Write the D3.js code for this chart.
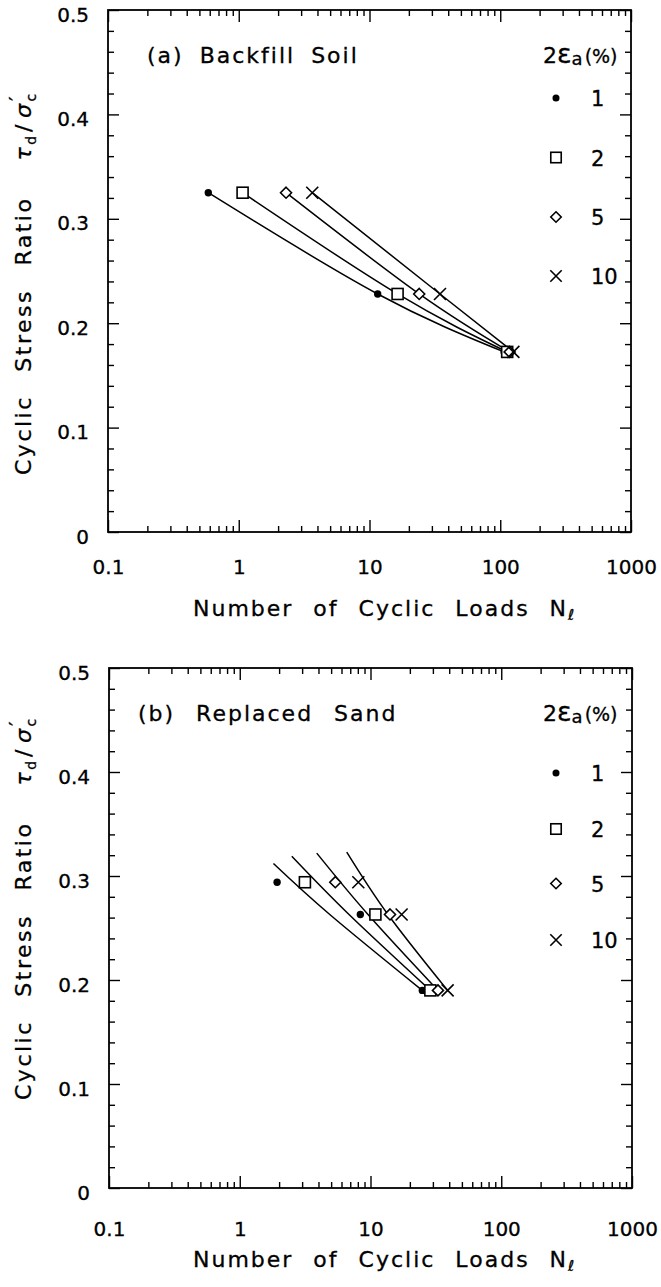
<!DOCTYPE html>
<html><head><meta charset="utf-8">
<script src="https://cdn.jsdelivr.net/npm/d3@7"></script>
<style>
body{margin:0;background:#fff}
text{font-family:"DejaVu Sans",sans-serif;fill:#000;stroke:#000;stroke-width:0.3px}
</style>
</head><body>
<svg id="c" width="661" height="1287"></svg>
<script>
// ---------------- data ----------------
const xTickValues = [0.1, 1, 10, 100, 1000];
const xTickLabels = ["0.1", "1", "10", "100", "1000"];
const yTickValues = [0, 0.1, 0.2, 0.3, 0.4, 0.5];
const yTickLabels = ["0", "0.1", "0.2", "0.3", "0.4", "0.5"];
const seriesNames = ["1", "2", "5", "10"];
const seriesSymbols = ["dot", "square", "diamond", "cross"];

// (a) Backfill Soil : stress ratio levels and number of cycles for each 2εa
const ratioA = [0.325, 0.228, 0.1725];
const cyclesA_1 = [0.585, 11.55, 107];
const cyclesA_2 = [1.07, 16.4, 113];
const cyclesA_5 = [2.30, 24.0, 118];
const cyclesA_10 = [3.65, 34.6, 126];

// (b) Replaced Sand
const ratioB = [0.294, 0.263, 0.19];
const cyclesB_1 = [1.93, 8.36, 24.9];
const cyclesB_2 = [3.15, 10.9, 28.7];
const cyclesB_5 = [5.38, 14.1, 32.8];
const cyclesB_10 = [8.07, 17.3, 38.9];

// fitted curves for (b): [N, ratio]
const fitB_1 = [[1.81, 0.312], [4.88, 0.263], [24.9, 0.19]];
const fitB_2 = [[2.50, 0.319], [6.85, 0.263], [28.7, 0.19]];
const fitB_5 = [[3.88, 0.322], [9.57, 0.263], [32.8, 0.19]];
const fitB_10 = [[6.58, 0.323], [13.6, 0.263], [38.9, 0.19]];

// ---------------- layout ----------------
const svg = d3.select("#c");
svg.append("rect").attr("width", 661).attr("height", 1287).attr("fill", "#fff");

const panels = [
  {
    title: "(a) Backfill Soil", titleX: 147, titleWS: 7,
    x0: 108, x1: 631, yTop: 10, yBot: 532,
    xLabelPad: 28, xTitleBase: 616, yTitleStart: 475,
    legendRows: [98, 157.5, 217, 276],
    cycles: [cyclesA_1, cyclesA_2, cyclesA_5, cyclesA_10], ratio: ratioA,
    fits: null
  },
  {
    title: "(b) Replaced Sand", titleX: 138, titleWS: 12,
    x0: 109, x1: 632, yTop: 668, yBot: 1188,
    xLabelPad: 34, xTitleBase: 1267, yTitleStart: 1100,
    legendRows: [773, 829, 883.5, 940],
    cycles: [cyclesB_1, cyclesB_2, cyclesB_5, cyclesB_10], ratio: ratioB,
    fits: [fitB_1, fitB_2, fitB_5, fitB_10]
  }
];

function marker(g, type, cx, cy, s) {
  s = s || 1;
  if (type === "dot") {
    g.append("circle").attr("cx", cx).attr("cy", cy).attr("r", 3.7 * s).attr("fill", "#000");
  } else if (type === "square") {
    const h = 5.5 * s;
    g.append("rect").attr("x", cx - h).attr("y", cy - h).attr("width", 2 * h).attr("height", 2 * h)
      .attr("fill", "#fff").attr("stroke", "#000").attr("stroke-width", 1.6);
  } else if (type === "diamond") {
    const h = 5.5 * s;
    g.append("path").attr("d", `M${cx},${cy - h}L${cx + h},${cy}L${cx},${cy + h}L${cx - h},${cy}Z`)
      .attr("fill", "#fff").attr("stroke", "#000").attr("stroke-width", 1.6);
  } else {
    const h = 6 * s;
    g.append("path").attr("d", `M${cx - h},${cy - h}L${cx + h},${cy + h}M${cx - h},${cy + h}L${cx + h},${cy - h}`)
      .attr("fill", "none").attr("stroke", "#000").attr("stroke-width", 1.6);
  }
}

const xMinor = [];
[0.1, 1, 10, 100].forEach(d => { for (let k = 2; k <= 9; k++) xMinor.push(+(d * k).toPrecision(3)); });
const yMinor = d3.range(0, 26).map(i => +(i * 0.02).toFixed(2)).filter((v, i) => i % 5 !== 0);

function styleAxis(sel) {
  sel.select(".domain").remove();
  sel.selectAll("line").attr("stroke", "#000").attr("stroke-width", 1.4);
  sel.attr("font-family", "DejaVu Sans, sans-serif").attr("font-size", 20);
}

panels.forEach(p => {
  const x = d3.scaleLog().domain([0.1, 1000]).range([p.x0, p.x1]);
  const y = d3.scaleLinear().domain([0, 0.5]).range([p.yBot, p.yTop]);
  const g = svg.append("g");

  // minor + major ticks on all four sides (inward)
  g.append("g").attr("transform", `translate(0,${p.yBot})`)
    .call(d3.axisBottom(x).tickValues(xMinor).tickSize(-6).tickFormat("")).call(styleAxis);
  g.append("g").attr("transform", `translate(0,${p.yBot})`)
    .call(d3.axisBottom(x).tickValues(xTickValues).tickSizeInner(-12).tickSizeOuter(0)
      .tickPadding(p.xLabelPad).tickFormat((d, i) => xTickLabels[i])).call(styleAxis);
  g.append("g").attr("transform", `translate(0,${p.yTop})`)
    .call(d3.axisTop(x).tickValues(xMinor).tickSize(-6).tickFormat("")).call(styleAxis);
  g.append("g").attr("transform", `translate(0,${p.yTop})`)
    .call(d3.axisTop(x).tickValues(xTickValues).tickSize(-12).tickFormat("")).call(styleAxis);

  g.append("g").attr("transform", `translate(${p.x0},0)`)
    .call(d3.axisLeft(y).tickValues(yMinor).tickSize(-6).tickFormat("")).call(styleAxis);
  const yl = g.append("g").attr("transform", `translate(${p.x0},0)`)
    .call(d3.axisLeft(y).tickValues(yTickValues).tickSizeInner(-11).tickSizeOuter(0)
      .tickPadding(19).tickFormat((d, i) => yTickLabels[i])).call(styleAxis);
  yl.selectAll("text").attr("dy", "0.55em");
  g.append("g").attr("transform", `translate(${p.x1},0)`)
    .call(d3.axisRight(y).tickValues(yMinor).tickSize(-6).tickFormat("")).call(styleAxis);
  g.append("g").attr("transform", `translate(${p.x1},0)`)
    .call(d3.axisRight(y).tickValues(yTickValues).tickSize(-11).tickFormat("")).call(styleAxis);

  // frame
  g.append("rect").attr("x", p.x0).attr("y", p.yTop).attr("width", p.x1 - p.x0).attr("height", p.yBot - p.yTop)
    .attr("fill", "none").attr("stroke", "#000").attr("stroke-width", 1.8);

  // curves
  const line = d3.line().x(d => x(d[0])).y(d => y(d[1])).curve(d3.curveNatural);
  p.cycles.forEach((cyc, si) => {
    const pts = p.fits ? p.fits[si] : cyc.map((n, i) => [n, p.ratio[i]]);
    g.append("path").attr("d", line(pts)).attr("fill", "none").attr("stroke", "#000").attr("stroke-width", 1.5);
  });
  // markers
  p.cycles.forEach((cyc, si) => {
    cyc.forEach((n, i) => marker(g, seriesSymbols[si], x(n), y(p.ratio[i])));
  });

  // panel title
  g.append("text").attr("x", p.titleX).attr("y", p.yTop + 53).attr("font-size", 22)
    .attr("letter-spacing", 2).attr("word-spacing", p.titleWS).text(p.title);

  // legend
  const lh = g.append("text").attr("x", 543).attr("y", p.yTop + 53).attr("font-size", 22);
  lh.append("tspan").text("2");
  lh.append("tspan").attr("font-size", 27).text("ε");
  lh.append("tspan").attr("font-size", 18).attr("dy", 2).text("a");
  lh.append("tspan").attr("font-size", 19).attr("dy", -2).attr("dx", 2).text("(%)");
  seriesNames.forEach((nm, i) => {
    const cy = p.legendRows[i];
    marker(g, seriesSymbols[i], 556, cy, 0.95);
    g.append("text").attr("x", 591).attr("y", cy + 8).attr("font-size", 21).text(nm);
  });

  // x title
  const xt = g.append("text").attr("x", 193).attr("y", p.xTitleBase).attr("font-size", 22)
    .attr("letter-spacing", 2).attr("word-spacing", 11);
  xt.append("tspan").text("Number of Cyclic Loads N");
  xt.append("tspan").attr("font-size", 15).attr("dy", 4).attr("letter-spacing", 0).attr("font-style", "italic").text("ℓ");

  // y title
  const yt = g.append("text").attr("transform", `translate(31,${p.yTitleStart}) rotate(-90)`)
    .attr("font-size", 22).attr("letter-spacing", 2.5).attr("word-spacing", 14);
  yt.append("tspan").text("Cyclic Stress Ratio");
  yt.append("tspan").attr("dx", 36).attr("font-style", "italic").text("τ");
  yt.append("tspan").attr("font-size", 14).attr("dy", 5).attr("letter-spacing", 0).text("d");
  yt.append("tspan").attr("dy", -5).attr("dx", 4).text("/");
  yt.append("tspan").attr("dx", 4).attr("font-style", "italic").text("σ");
  yt.append("tspan").attr("font-size", 14).attr("dy", 5).attr("letter-spacing", 0).text("c");
  yt.append("tspan").attr("font-size", 20).attr("dy", -13).attr("dx", -7).text("′");
});
</script>
</body></html>
